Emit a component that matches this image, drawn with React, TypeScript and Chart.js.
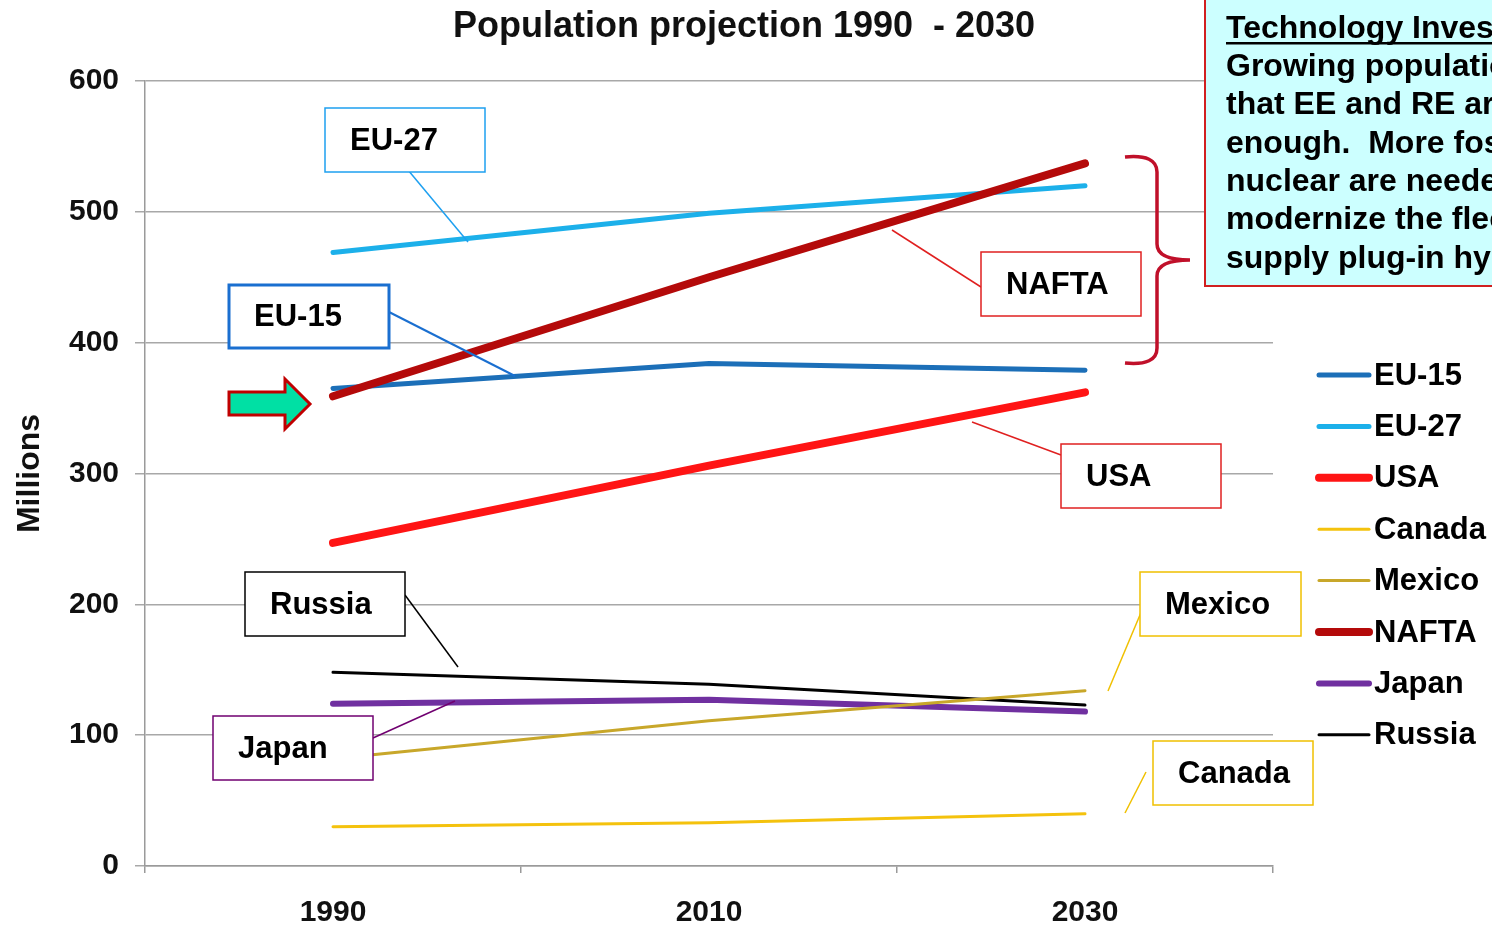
import React, { useEffect, useRef } from "react";
import { Chart, registerables } from "chart.js";

Chart.register(...registerables);

const categories = ["1990", "2010", "2030"];
const seriesNames = ["EU-15", "EU-27", "USA", "Canada", "Mexico", "NAFTA", "Japan", "Russia"];
const eu15 = [365, 384, 379];
const eu27 = [469, 499, 520];
const usa = [247, 306, 362];
const canada = [30, 33, 40];
const mexico = [82, 111, 134];
const nafta = [359, 450, 537];
const japan = [124, 127, 118];
const russia = [148, 139, 123];
const yTicks = [0, 100, 200, 300, 400, 500, 600];

const colors = ["#1c6fb8", "#1cb0ea", "#ff1414", "#f4c20d", "#c8a72a", "#b40a0a", "#7030a0", "#000000"];
const widths = [5, 5, 8, 3, 3, 8, 6, 3];
const values = [eu15, eu27, usa, canada, mexico, nafta, japan, russia];
const drawOrder = [3, 4, 2, 5, 1, 0, 7, 6];

const titleText = "Population projection 1990  - 2030";
const noteLines = [
  "Technology Investment",
  "Growing population means",
  "that EE and RE are not",
  "enough.  More fossil and",
  "nuclear are needed to",
  "modernize the fleet and",
  "supply plug-in hybrids.",
];

const FONT = "'Liberation Sans', Arial, sans-serif";

type Callout = { text: string; x: number; y: number; w: number; h: number; color: string; lw: number; lx1: number; ly1: number; lx2: number; ly2: number; llw: number };

const callouts: Callout[] = [
  { text: "EU-27", x: 325, y: 108, w: 160, h: 64, color: "#1ea0f0", lw: 1.5, lx1: 408, ly1: 170, lx2: 468, ly2: 242, llw: 1.5 },
  { text: "EU-15", x: 229, y: 285, w: 160, h: 63, color: "#1a6fd0", lw: 3, lx1: 389, ly1: 312, lx2: 515, ly2: 376, llw: 2 },
  { text: "NAFTA", x: 981, y: 252, w: 160, h: 64, color: "#e02020", lw: 1.5, lx1: 981, ly1: 287, lx2: 892, ly2: 230, llw: 1.5 },
  { text: "USA", x: 1061, y: 444, w: 160, h: 64, color: "#e02020", lw: 1.5, lx1: 1061, ly1: 455, lx2: 972, ly2: 422, llw: 1.5 },
  { text: "Russia", x: 245, y: 572, w: 160, h: 64, color: "#000000", lw: 1.5, lx1: 405, ly1: 595, lx2: 458, ly2: 667, llw: 1.5 },
  { text: "Japan", x: 213, y: 716, w: 160, h: 64, color: "#700070", lw: 1.5, lx1: 373, ly1: 738, lx2: 455, ly2: 701, llw: 1.5 },
  { text: "Mexico", x: 1140, y: 572, w: 161, h: 64, color: "#f0c000", lw: 1.5, lx1: 1145, ly1: 603, lx2: 1108, ly2: 691, llw: 1.5 },
  { text: "Canada", x: 1153, y: 741, w: 160, h: 64, color: "#f0c000", lw: 1.5, lx1: 1146, ly1: 772, lx2: 1125, ly2: 813, llw: 1.5 },
];

const decorPlugin = {
  id: "decor",
  afterDraw(chart: any) {
    const ctx: CanvasRenderingContext2D = chart.ctx;
    ctx.save();
    // title
    ctx.fillStyle = "#111";
    ctx.font = `bold 36px ${FONT}`;
    ctx.textAlign = "center";
    ctx.textBaseline = "middle";
    ctx.fillText(titleText, 744, 27);

    // callouts
    for (const c of callouts) {
      ctx.strokeStyle = c.color;
      ctx.lineWidth = c.llw;
      ctx.beginPath();
      ctx.moveTo(c.lx1, c.ly1);
      ctx.lineTo(c.lx2, c.ly2);
      ctx.stroke();
      ctx.fillStyle = "#ffffff";
      ctx.fillRect(c.x, c.y, c.w, c.h);
      ctx.lineWidth = c.lw;
      ctx.strokeRect(c.x, c.y, c.w, c.h);
      ctx.fillStyle = "#000";
      ctx.font = `bold 31px ${FONT}`;
      ctx.textAlign = "left";
      ctx.textBaseline = "middle";
      ctx.fillText(c.text, c.x + 25, c.y + c.h / 2 + 1);
    }

    // arrow
    ctx.beginPath();
    ctx.moveTo(229, 392);
    ctx.lineTo(285, 392);
    ctx.lineTo(285, 379);
    ctx.lineTo(310, 404);
    ctx.lineTo(285, 429);
    ctx.lineTo(285, 415);
    ctx.lineTo(229, 415);
    ctx.closePath();
    ctx.fillStyle = "#00e0a4";
    ctx.fill();
    ctx.strokeStyle = "#c00000";
    ctx.lineWidth = 3;
    ctx.lineJoin = "miter";
    ctx.stroke();

    // brace
    ctx.strokeStyle = "#c0102a";
    ctx.lineWidth = 3.5;
    ctx.beginPath();
    ctx.moveTo(1125, 157);
    ctx.quadraticCurveTo(1157, 154, 1157, 172);
    ctx.lineTo(1157, 244);
    ctx.quadraticCurveTo(1157, 260, 1190, 260);
    ctx.quadraticCurveTo(1157, 260, 1157, 276);
    ctx.lineTo(1157, 348);
    ctx.quadraticCurveTo(1157, 366, 1125, 363);
    ctx.stroke();

    // note box
    ctx.fillStyle = "#ccffff";
    ctx.fillRect(1205, -5, 300, 291);
    ctx.strokeStyle = "#d02020";
    ctx.lineWidth = 2;
    ctx.strokeRect(1205, -5, 300, 291);
    ctx.fillStyle = "#000";
    ctx.font = `bold 32px ${FONT}`;
    ctx.textAlign = "left";
    ctx.textBaseline = "middle";
    noteLines.forEach((t, i) => {
      ctx.fillText(t, 1226, 29 + i * 38.3);
    });
    const uw = ctx.measureText(noteLines[0]).width;
    ctx.fillRect(1226, 42, uw, 2.5);

    // legend
    const legendOrder = [0, 1, 2, 3, 4, 5, 6, 7];
    legendOrder.forEach((di, i) => {
      const ds = chart.data.datasets[di];
      const y = 375 + i * 51.4;
      ctx.strokeStyle = ds.borderColor;
      ctx.lineWidth = ds.borderWidth;
      ctx.lineCap = "round";
      ctx.beginPath();
      ctx.moveTo(1319, y);
      ctx.lineTo(1369, y);
      ctx.stroke();
      ctx.fillStyle = "#000";
      ctx.font = `bold 31px ${FONT}`;
      ctx.fillText(ds.label, 1374, y + 1);
    });
    ctx.restore();
  },
};

export default function App() {
  const ref = useRef<HTMLCanvasElement>(null);
  useEffect(() => {
    if (!ref.current) return;
    const chart = new Chart(ref.current, {
      type: "line",
      data: {
        labels: categories,
        datasets: seriesNames.map((name, i) => ({
          label: name,
          data: values[i],
          borderColor: colors[i],
          backgroundColor: colors[i],
          borderWidth: widths[i],
          borderCapStyle: "round",
          borderJoinStyle: "round",
          pointRadius: 0,
          tension: 0,
          fill: false,
          order: drawOrder[i],
        })),
      },
      options: {
        animation: false,
        responsive: false,
        devicePixelRatio: 1,
        layout: { padding: { left: 0, top: 81, right: 219, bottom: 0 } },
        plugins: { legend: { display: false }, title: { display: false }, tooltip: { enabled: false } },
        scales: {
          x: {
            type: "category",
            offset: true,
            grid: { offset: true, drawOnChartArea: false, drawTicks: true, tickLength: 7, color: "#9a9a9a", lineWidth: 1.5 },
            border: { display: true, color: "#9a9a9a", width: 1.5 },
            ticks: { color: "#111", font: { family: FONT, size: 30, weight: "bold" }, padding: 22 },
            afterFit: (s: any) => { s.height = 63; },
          },
          y: {
            min: 0,
            max: 600,
            afterBuildTicks: (s: any) => { s.ticks = yTicks.map((v) => ({ value: v })); },
            grid: { color: "#a8a8a8", lineWidth: 1.5, tickLength: 10, drawTicks: true },
            border: { display: true, color: "#9a9a9a", width: 1.5 },
            ticks: { color: "#111", font: { family: FONT, size: 30, weight: "bold" }, padding: 16 },
            title: { display: true, text: "Millions", color: "#111", font: { family: FONT, size: 32, weight: "bold" }, padding: { top: 11, bottom: 0 } },
            afterFit: (s: any) => { s.width = 145; },
          },
        },
      },
      plugins: [decorPlugin],
    } as any);
    return () => chart.destroy();
  }, []);
  return (
    <div style={{ position: "fixed", left: 0, top: 0, width: 1492, height: 929, background: "#fff" }}>
      <canvas ref={ref} width={1492} height={929} />
    </div>
  );
}
